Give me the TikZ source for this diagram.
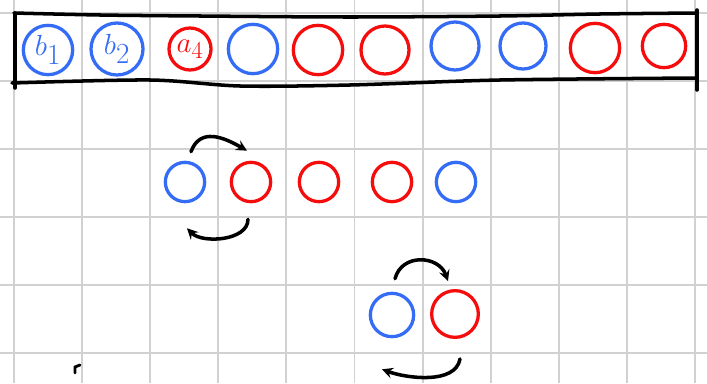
\documentclass[tikz,border=0pt]{standalone}
\definecolor{penblue}{RGB}{52,108,245}
\definecolor{penred}{RGB}{245,12,12}
\begin{document}
\begin{tikzpicture}[
  x=0.03cm, y=0.03cm,
  >=stealth,
  gridline/.style={draw=black!18, line width=1.6pt},
  boxline/.style={draw=black, line width=3pt, line cap=round, line join=round},
  bnode/.style={circle, draw=penblue, line width=2.8pt, minimum size=1.48cm, inner sep=0pt, text=penblue, font={\fontsize{38}{38}\selectfont}},
  rnode/.style={circle, draw=penred, line width=2.8pt, minimum size=1.48cm, inner sep=0pt, text=penred, font={\fontsize{38}{38}\selectfont}},
  smallnode/.style={minimum size=1.18cm},
  swaparr/.style={->, draw=black, line width=3pt, line cap=round}
]
\useasboundingbox (0,0) rectangle (707,383);
\foreach \gx in {0,...,10} \draw[gridline] ({14+68.1*\gx},0) -- ({14+68.1*\gx},383);
\foreach \gy in {30,98,166,234,302,370} \draw[gridline] (0,\gy) -- (707,\gy);
\draw[boxline] (15,370) -- (15,295);
\draw[boxline] (697,373) -- (697,293);
\draw[boxline] plot[smooth] coordinates {(14,370) (100,368) (200,367) (350,366) (500,367) (600,369) (697,370)};
\draw[boxline] plot[smooth] coordinates {(12,300) (150,303) (240,297) (350,298) (500,303) (697,305)};
\node[bnode] (t1) at (48,333) {$b_1$};
\node[bnode, minimum size=1.56cm] (t2) at (117,334) {$b_2$};
\node[rnode, minimum size=1.26cm, font={\fontsize{30}{30}\selectfont}] (t3) at (190,334) {$a_4$};
\node[bnode] (t4) at (253,334) {};
\node[rnode] (t5) at (318,333) {};
\node[rnode, minimum size=1.44cm] (t6) at (385,333) {};
\node[bnode, minimum size=1.44cm] (t7) at (455,337) {};
\node[bnode, minimum size=1.38cm] (t8) at (523,337) {};
\node[rnode] (t9) at (595,335) {};
\node[rnode, minimum size=1.3cm] (t10) at (664,337) {};
\node[bnode, smallnode] (m1) at (185,201) {};
\node[rnode, smallnode] (m2) at (251,201) {};
\node[rnode, smallnode] (m3) at (319,201) {};
\node[rnode, smallnode] (m4) at (392,201) {};
\node[bnode, smallnode] (m5) at (456,201) {};
\node[bnode, minimum size=1.3cm] (s1) at (392,68) {};
\node[rnode, minimum size=1.4cm] (s2) at (455,69) {};
\draw[swaparr] ([shift={(6,9)}]m1.north) to[out=70,in=150,looseness=1.2] ([shift={(-4,10)}]m2.north);
\draw[swaparr] ([shift={(-3,-16)}]m2.south) to[out=-90,in=-45,looseness=0.9] ([shift={(2,-25)}]m1.south);
\draw[swaparr] ([shift={(3,13)}]s1.north) to[out=75,in=110,looseness=1.3] ([shift={(-7,8)}]s2.north);
\draw[swaparr] ([shift={(5,-20)}]s2.south) to[out=-100,in=-20,looseness=0.85] ([shift={(-10,-31)}]s1.south);
\draw[line width=2.4pt, line cap=round] (75,10) -- (75,16) -- (80,18);
\end{tikzpicture}
\end{document}
